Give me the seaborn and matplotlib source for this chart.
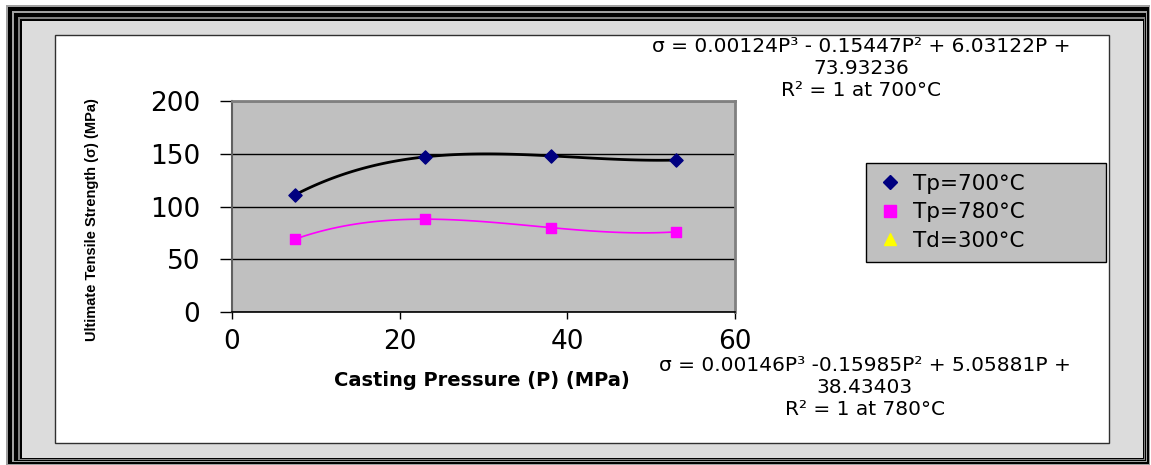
import numpy as np
import pandas as pd
import matplotlib.pyplot as plt
import seaborn as sns
from matplotlib.patches import Rectangle
from matplotlib.lines import Line2D

# dados
pressao = [7.5, 23, 38, 53]
sigma_700 = [111, 147, 148, 144]
sigma_780 = [69, 88, 80, 76]
series = ['Tp=700°C', 'Tp=780°C', 'Td=300°C']
x_ticks = [0, 20, 40, 60]
y_ticks = [0, 50, 100, 150, 200]
eq_700 = 'σ = 0.00124P³ - 0.15447P² + 6.03122P +\n73.93236\nR² = 1 at 700°C'
eq_780 = 'σ = 0.00146P³ -0.15985P² + 5.05881P +\n38.43403\nR² = 1 at 780°C'

df = pd.DataFrame({'P': pressao, 's700': sigma_700, 's780': sigma_780})

W, H = 1151, 465
sns.set_theme(style='white')
plt.rcParams['font.family'] = ['DejaVu Sans']
plt.rcParams['text.color'] = 'black'

fig = plt.figure(figsize=(W / 100, H / 100), dpi=100)


def moldura(x0, y0, x1, y1, cor, borda='none', lw=0):
    fig.add_artist(Rectangle((x0 / W, 1 - y1 / H), (x1 - x0) / W, (y1 - y0) / H,
                             transform=fig.transFigure, facecolor=cor,
                             edgecolor=borda, linewidth=lw, zorder=-10))


# moldura em volta do grafico
moldura(6, 5, 1150, 465, '#a0a0a0')
moldura(8, 7, 1149, 464, 'black')
moldura(12, 11, 1147, 462, '#a0a0a0')
moldura(14, 13, 1146, 461, 'black')
moldura(18, 17, 1145, 460, '#808080')
moldura(20, 19, 1144, 459, 'black')
moldura(22, 21, 1143, 458, '#dcdcdc')
moldura(55, 35, 1109, 443, 'white', '#303030', 1)

ax = fig.add_axes([232 / W, 1 - 312 / H, 503 / W, 211 / H])
ax.set_facecolor('#c0c0c0')

sns.regplot(data=df, x='P', y='s700', order=3, ci=None, ax=ax, marker='D',
            scatter_kws={'color': '#000080', 'edgecolor': '#000080', 's': 45,
                         'alpha': 1, 'zorder': 4},
            line_kws={'color': 'black', 'lw': 2, 'zorder': 3})
sns.regplot(data=df, x='P', y='s780', order=3, ci=None, ax=ax, marker='s',
            scatter_kws={'color': '#ff00ff', 'edgecolor': '#ff00ff', 's': 55,
                         'alpha': 1, 'zorder': 4},
            line_kws={'color': '#ff00ff', 'lw': 1.2, 'zorder': 3})

ax.set_xlim(0, 60)
ax.set_ylim(0, 200)
ax.set_xticks(x_ticks)
ax.set_yticks(y_ticks)
ax.set_xlabel('')
ax.set_ylabel('')
ax.yaxis.grid(True, color='black', lw=1)
ax.xaxis.grid(False)
ax.set_axisbelow(True)

ax.tick_params(axis='x', bottom=True, direction='out', length=5, width=1,
               color='black', labelsize=19, pad=7, labelcolor='black')
ax.tick_params(axis='y', left=True, direction='out', length=9, width=1,
               color='black', labelsize=19, pad=14, labelcolor='black')

for lado in ['top', 'right']:
    ax.spines[lado].set_color('#808080')
    ax.spines[lado].set_linewidth(2)
ax.spines['left'].set_color('#606060')
ax.spines['left'].set_linewidth(1.5)
ax.spines['bottom'].set_color('black')
ax.spines['bottom'].set_linewidth(1.2)

fig.text(92 / W, 1 - 220 / H, 'Ultimate Tensile Strength (σ) (MPa)', rotation=90,
         ha='center', va='center', fontsize=10.5, weight='bold',
         family=['Liberation Sans', 'DejaVu Sans'])
fig.text(482 / W, 1 - 380 / H, 'Casting Pressure (P) (MPa)', ha='center', va='center',
         fontsize=14, weight='bold')

fig.text(861 / W, 1 - 68 / H, eq_700, ha='center', va='center', fontsize=14.5,
         linespacing=1.2, multialignment='center')
fig.text(865 / W, 1 - 387 / H, eq_780, ha='center', va='center', fontsize=14.5,
         linespacing=1.2, multialignment='center')

marcadores = [
    Line2D([], [], marker='D', color='#000080', ls='none', ms=7),
    Line2D([], [], marker='s', color='#ff00ff', ls='none', ms=8),
    Line2D([], [], marker='^', color='#ffff00', ls='none', ms=9),
]
leg = fig.legend(marcadores, series, loc='upper left',
                 bbox_to_anchor=(866 / W, 1 - 163 / H, 240 / W, 0), mode='expand',
                 fontsize=15.5, frameon=True, facecolor='#c0c0c0', edgecolor='black',
                 fancybox=False, framealpha=1, handlelength=1.2, handletextpad=0.5,
                 labelspacing=0.4, borderpad=0.5, borderaxespad=0)
for t in leg.get_texts():
    t.set_color('black')

fig.savefig('out.png', dpi=100)
